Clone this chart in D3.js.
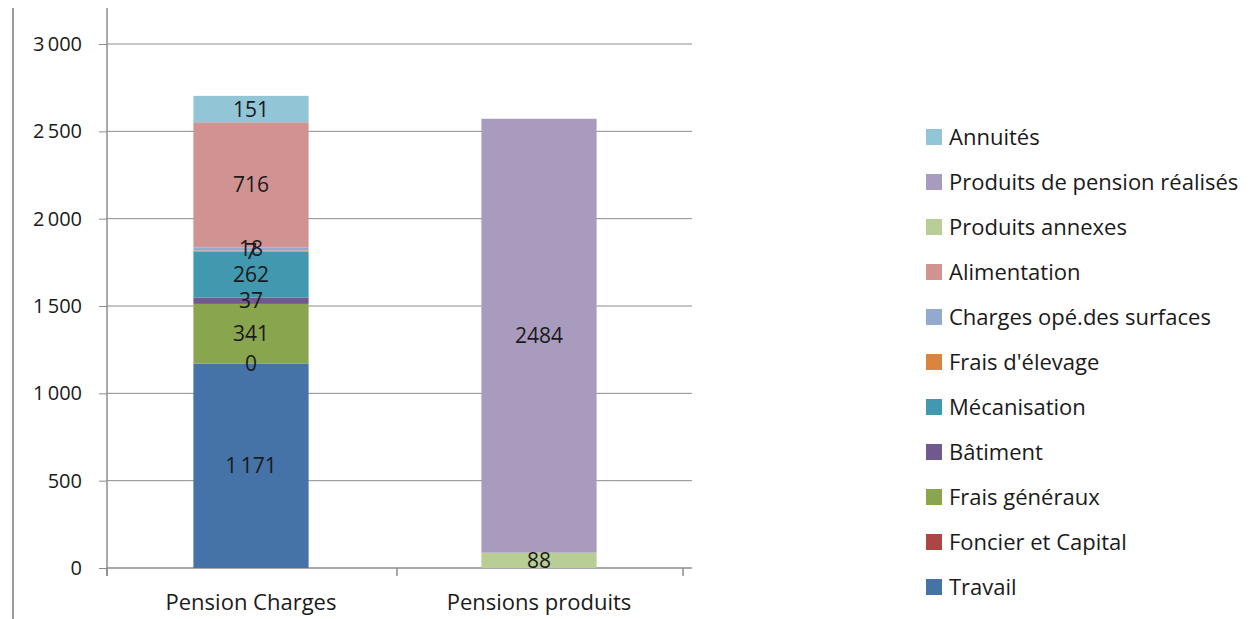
<!DOCTYPE html>
<html>
<head>
  <meta charset="utf-8">
  <title>Pension charges / produits</title>
  <style>
    body { margin: 0; background: #fff; }
    text { font-family: "Open Sans", "Noto Sans", sans-serif; fill: #1a1a1a; }
  </style>
</head>
<body>
  <div id="viz"></div>
  <script src="https://d3js.org/d3.v7.min.js"></script>
  <script>
    // categories on the x axis
    const categories = ['Pension Charges', 'Pensions produits'];

    // series, in stacking order (bottom to top)
    const seriesNames = ['Travail', 'Foncier et Capital', 'Frais généraux', 'Bâtiment', 'Mécanisation',
      "Frais d'élevage", 'Charges opé.des surfaces', 'Alimentation', 'Produits annexes',
      'Produits de pension réalisés', 'Annuités'];
    const seriesColors = ['#4572A7', '#AA4643', '#89A54E', '#71588F', '#4198AF',
      '#DB843D', '#93A9CF', '#D19392', '#B9CD96', '#A99BBD', '#92C5D5'];

    // values per series: [Pension Charges, Pensions produits] (null = no value)
    const travail = [1171, null];
    const foncier = [0, null];
    const fraisGeneraux = [341, null];
    const batiment = [37, null];
    const mecanisation = [262, null];
    const fraisElevage = [7, null];
    const chargesSurfaces = [18, null];
    const alimentation = [716, null];
    const produitsAnnexes = [null, 88];
    const produitsPension = [null, 2484];
    const annuites = [151, null];

    const seriesValues = [travail, foncier, fraisGeneraux, batiment, mecanisation,
      fraisElevage, chargesSurfaces, alimentation, produitsAnnexes, produitsPension, annuites];

    const yTicks = [0, 500, 1000, 1500, 2000, 2500, 3000];

    const W = 1252, H = 619;
    const plot = { left: 107, right: 683, top: 44, bottom: 568 };

    const svg = d3.select('#viz').append('svg')
      .attr('width', W).attr('height', H);

    const x = d3.scaleBand()
      .domain(categories)
      .range([plot.left, plot.right])
      .paddingInner(0.6)
      .paddingOuter(0.3);

    const y = d3.scaleLinear()
      .domain([0, 3000])
      .range([plot.bottom, plot.top]);

    const fmt = v => d3.format(',')(v).replace(/,/g, '\u2009');

    // outer frame line on the far left
    svg.append('line')
      .attr('x1', 13).attr('x2', 13).attr('y1', 8).attr('y2', H)
      .attr('stroke', '#9a9a9a').attr('stroke-width', 2);

    // gridlines
    svg.append('g')
      .selectAll('line')
      .data(yTicks.filter(t => t > 0))
      .join('line')
      .attr('x1', plot.left).attr('x2', 692)
      .attr('y1', d => y(d)).attr('y2', d => y(d))
      .attr('stroke', '#8c8c8c').attr('stroke-width', 1);

    // y axis
    const yAxis = svg.append('g')
      .attr('transform', `translate(${plot.left},0)`)
      .call(d3.axisLeft(y).tickValues(yTicks).tickSize(8).tickPadding(17).tickFormat(fmt));
    yAxis.select('.domain').remove();
    yAxis.selectAll('.tick line').attr('stroke', '#8c8c8c');
    yAxis.selectAll('text').style('font-size', '20px').attr('fill', '#1a1a1a');
    svg.append('line')
      .attr('x1', plot.left).attr('x2', plot.left).attr('y1', 8).attr('y2', 576)
      .attr('stroke', '#8c8c8c').attr('stroke-width', 1.5);

    // x axis
    const step = x.step();
    const xBoundaries = [plot.left, plot.left + step + 2, plot.right];
    svg.append('line')
      .attr('x1', plot.left).attr('x2', 692).attr('y1', plot.bottom).attr('y2', plot.bottom)
      .attr('stroke', '#8c8c8c').attr('stroke-width', 1.5);
    svg.append('g').selectAll('line')
      .data(xBoundaries)
      .join('line')
      .attr('x1', d => d).attr('x2', d => d)
      .attr('y1', plot.bottom).attr('y2', plot.bottom + 8)
      .attr('stroke', '#8c8c8c').attr('stroke-width', 1.5);
    svg.append('g').selectAll('text')
      .data(categories)
      .join('text')
      .attr('x', d => x(d) + x.bandwidth() / 2)
      .attr('y', 610)
      .attr('text-anchor', 'middle')
      .style('font-size', '22px')
      .text(d => d);

    // stacked bars
    const rows = categories.map((c, i) => {
      const r = { cat: c };
      seriesNames.forEach((s, k) => { r[s] = seriesValues[k][i] || 0; });
      return r;
    });
    const stacked = d3.stack().keys(seriesNames)(rows);

    const groups = svg.append('g').selectAll('g')
      .data(stacked)
      .join('g')
      .attr('fill', (d, k) => seriesColors[k]);

    groups.selectAll('rect')
      .data(d => d.filter((p, i) => seriesValues[d.index][i] !== null))
      .join('rect')
      .attr('x', d => x(d.data.cat))
      .attr('width', x.bandwidth())
      .attr('y', d => y(d[1]))
      .attr('height', d => y(d[0]) - y(d[1]));

    // data labels
    const labels = [];
    stacked.forEach((s, k) => {
      s.forEach((p, i) => {
        const v = seriesValues[k][i];
        if (v !== null) labels.push({ cat: categories[i], mid: (p[0] + p[1]) / 2, v: v });
      });
    });
    svg.append('g').selectAll('text')
      .data(labels)
      .join('text')
      .attr('x', d => x(d.cat) + x.bandwidth() / 2)
      .attr('y', d => y(d.mid))
      .attr('dy', '0.36em')
      .attr('text-anchor', 'middle')
      .style('font-size', '21px')
      .attr('fill', '#111')
      .text(d => d.v >= 1000 && d.cat === 'Pension Charges' ? fmt(d.v) : d.v);

    // legend
    const legendOrder = ['Annuités', 'Produits de pension réalisés', 'Produits annexes', 'Alimentation',
      'Charges opé.des surfaces', "Frais d'élevage", 'Mécanisation', 'Bâtiment', 'Frais généraux',
      'Foncier et Capital', 'Travail'];
    const legend = svg.append('g').selectAll('g')
      .data(legendOrder)
      .join('g')
      .attr('transform', (d, i) => `translate(926, ${137 + i * 45})`);
    legend.append('rect')
      .attr('x', 0).attr('y', -8).attr('width', 16).attr('height', 16)
      .attr('fill', d => seriesColors[seriesNames.indexOf(d)]);
    legend.append('text')
      .attr('x', 23).attr('y', 0).attr('dy', '0.36em')
      .style('font-size', '22px')
      .text(d => d);
  </script>
</body>
</html>
